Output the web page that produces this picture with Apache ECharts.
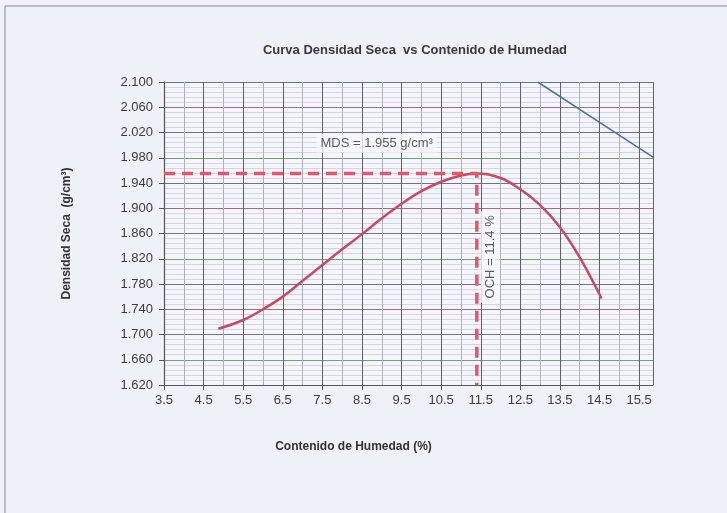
<!DOCTYPE html>
<html>
<head>
<meta charset="utf-8">
<script src="https://cdn.jsdelivr.net/npm/echarts@6/dist/echarts.min.js"></script>
<style>
  html, body { margin: 0; padding: 0; background: #eef1f8; }
  #chart { width: 727px; height: 513px; }
</style>
</head>
<body>
<div id="chart"></div>
<script>
// compaction curve (humedad %, densidad seca g/cm3)
const humedad = [4.87, 5.5, 6.0, 6.5, 7.0, 7.5, 8.0, 8.5, 9.0, 9.5, 10.0, 10.5, 11.0, 11.4, 12.0, 12.5, 13.0, 13.5, 14.0, 14.55];
const densidad = [1.709, 1.723, 1.740, 1.760, 1.785, 1.810, 1.835, 1.859, 1.884, 1.907, 1.927, 1.942, 1.952, 1.955, 1.948, 1.930, 1.905, 1.870, 1.822, 1.757];
// saturation line (blue), clipped by the axis
const satX = [12.94, 14.5, 15.85];
const satY = [2.100, 2.036, 1.981];
// optimum point
const och = 11.4;
const mds = 1.955;
const yTicks = ['1.620', '1.660', '1.700', '1.740', '1.780', '1.820', '1.860', '1.900', '1.940', '1.980', '2.020', '2.060', '2.100'];

const font = 'Liberation Sans, Arial, sans-serif';
const chart = echarts.init(document.getElementById('chart'));

chart.setOption({
    backgroundColor: '#eef1f8',
    animation: false,
    title: {
        text: 'Curva Densidad Seca  vs Contenido de Humedad',
        left: 410, top: 39, textAlign: 'center',
        textStyle: { fontFamily: font, fontSize: 13, fontWeight: 'bold', color: '#3a3a3a' },
    },
    graphic: [
        { type: 'line', shape: { x1: 5, y1: 6, x2: 727, y2: 6 }, style: { stroke: '#a8aab0', lineWidth: 1.5 } },
        { type: 'line', shape: { x1: 5, y1: 6, x2: 5, y2: 513 }, style: { stroke: '#a8aab0', lineWidth: 1.5 } },
    ],
    grid: { left: 164, right: 74, top: 82, bottom: 128, containLabel: false, show: true, backgroundColor: '#f4f6fb', borderWidth: 0 },
    xAxis: {
        type: 'value', min: 3.5, max: 15.85, interval: 1,
        name: 'Contenido de Humedad (%)', nameLocation: 'middle', nameGap: 56,
        nameTextStyle: { fontFamily: font, fontSize: 12, fontWeight: 'bold', color: '#333', padding: [0, 0, 0, -110] },
        axisLine: { lineStyle: { color: '#555', width: 1.2 } },
        axisTick: { show: true, length: 5, lineStyle: { color: '#555' } },
        axisLabel: { fontFamily: font, fontSize: 13, color: '#3d3d3d', margin: 9, showMaxLabel: false,
            formatter: v => v.toFixed(1) },
        splitLine: { show: true, lineStyle: { color: '#5e5e70', width: 1 } },
        minorTick: { show: false, splitNumber: 2 },
        minorSplitLine: { show: true, lineStyle: { color: '#aeb1c2', width: 1 } },
    },
    yAxis: {
        type: 'value', min: 1.62, max: 2.1, interval: 0.04,
        name: 'Densidad Seca  (g/cm³)', nameLocation: 'middle', nameGap: 91,
        nameTextStyle: { fontFamily: font, fontSize: 12, fontWeight: 'bold', color: '#333' },
        axisLine: { show: true, lineStyle: { color: '#555', width: 1.2 } },
        axisTick: { show: true, length: 5, lineStyle: { color: '#555' } },
        axisLabel: { fontFamily: font, fontSize: 13, color: '#3d3d3d', margin: 11,
            formatter: v => yTicks.find(t => Math.abs(parseFloat(t) - v) < 1e-6) || v.toFixed(3) },
        splitLine: { show: true, lineStyle: { color: ['#6f6f9c', '#7f9a6e', '#6f6f9c', '#a0707a'], width: 1 } },
        minorTick: { show: false, splitNumber: 5 },
        minorSplitLine: { show: true, lineStyle: { color: '#d3d6e2', width: 1 } },
    },
    series: [
        {
            type: 'line', smooth: 0.4, symbol: 'none', z: 5,
            data: humedad.map((h, i) => [h, densidad[i]]),
            lineStyle: { color: '#c94a5e', width: 2.5 },
        },
        {
            type: 'line', symbol: 'none', z: 4,
            data: satX.map((h, i) => [h, satY[i]]),
            lineStyle: { color: '#4a6fa8', width: 1.5 },
        },
        {
            type: 'line', symbol: 'none', z: 6,
            data: [[3.5, mds], [och, mds], [och, 1.62]],
            lineStyle: { color: '#e4576a', width: 3.5, type: [11, 7] },
        },
        {
            type: 'scatter', symbolSize: 0, z: 7, silent: true,
            data: [[8.87, 2.003]],
            label: {
                show: true, position: 'inside', formatter: 'MDS = 1.955 g/cm³',
                fontFamily: font, fontSize: 13, color: '#333',
                backgroundColor: '#f7f8fc', padding: [3, 4],
            },
        },
        {
            type: 'scatter', symbolSize: 0, z: 7, silent: true,
            data: [[11.74, 1.823]],
            label: {
                show: true, position: 'inside', formatter: 'OCH = 11.4 %', rotate: 90,
                fontFamily: font, fontSize: 13, color: '#333',
                backgroundColor: '#f7f8fc', padding: [3, 4],
            },
        },
    ],
});
</script>
</body>
</html>
